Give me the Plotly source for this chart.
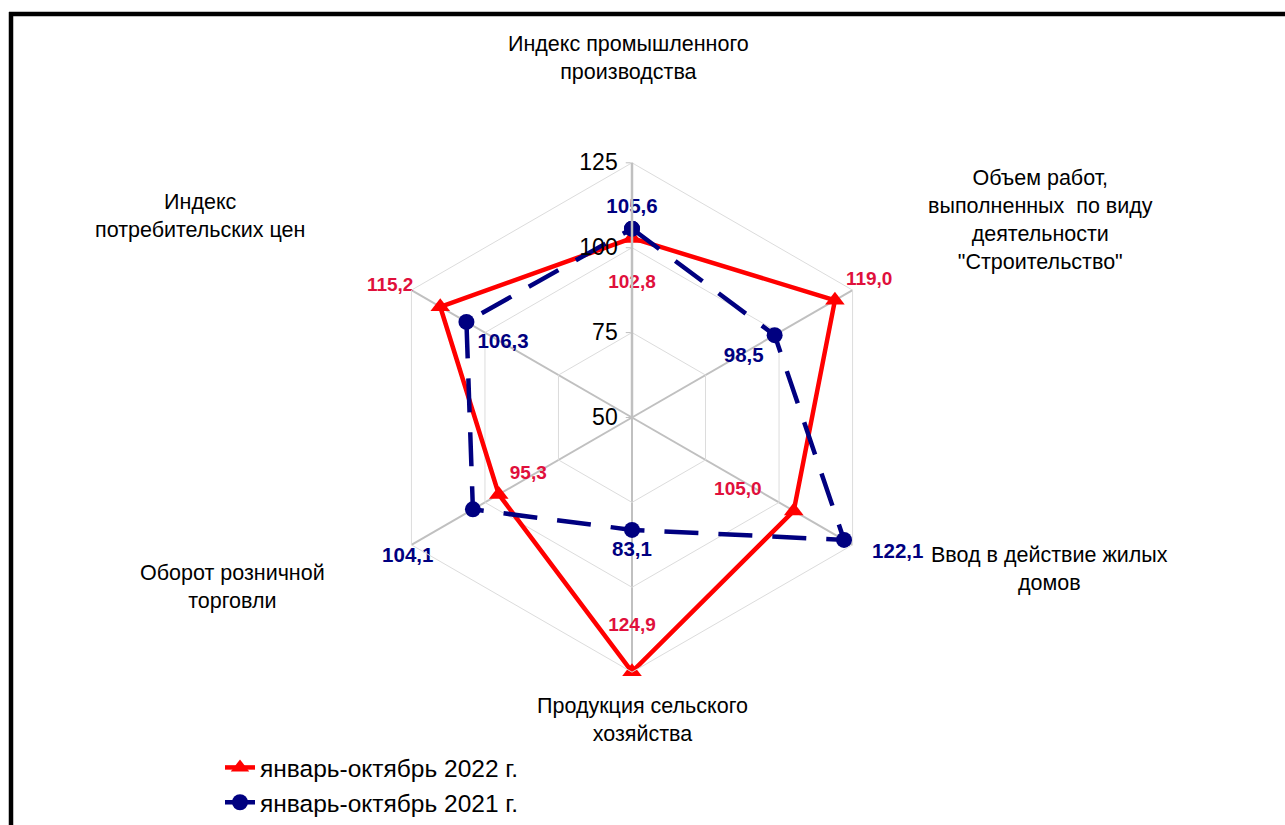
import plotly.graph_objects as go

W, H = 1285, 825

categories = [
    "Индекс промышленного<br>производства",
    "Объем работ,<br>выполненных  по виду<br>деятельности<br>\"Строительство\"",
    "Ввод в действие жилых<br>домов",
    "Продукция сельского<br>хозяйства",
    "Оборот розничной<br>торговли",
    "Индекс<br>потребительских цен",
]
series_2022 = [102.8, 119.0, 105.0, 124.9, 95.3, 115.2]
series_2021 = [105.6, 98.5, 122.1, 83.1, 104.1, 106.3]
series_names = ["январь-октябрь 2022 г.", "январь-октябрь 2021 г."]
radial_ticks = [50, 75, 100, 125]

FONT = "Liberation Sans, Arial, sans-serif"
RED = "#FF0000"
NAVY = "#000080"
RED_LBL = "#E0103C"
NB = "\u00a0"


def fmt(v):
    return f"{v:.1f}".replace(".", ",")


def px(x, y):
    return x / W, 1 - y / H


# label placement (style only)
pos_2022 = ["bottom center", "top right", "top left", "top center", "top right", "top left"]
pre_2022 = ["<br>", "", "", "", "", ""]
post_2022 = ["", "", NB * 4, "<br> ", "", NB * 3]
pos_2021 = ["top center", "bottom left", "middle right", "bottom center", "bottom left", "bottom right"]
pre_2021 = ["", "", "<br>" + NB * 3, "", "<br>", ""]
post_2021 = ["", "", "", "", NB * 5, ""]

fig = go.Figure()

closed_theta = categories + categories[:1]

fig.add_trace(go.Scatterpolar(
    r=series_2022 + series_2022[:1], theta=closed_theta,
    mode="lines+markers", name=series_names[0],
    line=dict(color=RED, width=4.5),
    marker=dict(symbol="triangle-up", size=17, color=RED),
))
fig.add_trace(go.Scatterpolar(
    r=series_2021 + series_2021[:1], theta=closed_theta,
    mode="lines+markers", name=series_names[1],
    line=dict(color=NAVY, width=4.5, dash="34px,20px"),
    marker=dict(symbol="circle", size=16, color=NAVY),
))

fig.add_trace(go.Scatterpolar(
    r=series_2022, theta=categories, mode="markers+text", showlegend=False,
    text=[a + fmt(v) + b for a, v, b in zip(pre_2022, series_2022, post_2022)],
    textposition=pos_2022,
    marker=dict(size=16, color="rgba(0,0,0,0)"),
    textfont=dict(family=FONT, size=19, color=RED_LBL, weight="bold"),
    hoverinfo="skip",
))
fig.add_trace(go.Scatterpolar(
    r=series_2021, theta=categories, mode="markers+text", showlegend=False,
    text=[a + fmt(v) + b for a, v, b in zip(pre_2021, series_2021, post_2021)],
    textposition=pos_2021,
    marker=dict(size=16, color="rgba(0,0,0,0)"),
    textfont=dict(family=FONT, size=20.5, color=NAVY, weight="bold"),
    hoverinfo="skip",
))

cx, cy, R = 632, 418, 255
fig.update_layout(
    width=W, height=H,
    margin=dict(l=0, r=0, t=0, b=0),
    paper_bgcolor="white",
    font=dict(family=FONT, color="black"),
    polar=dict(
        domain=dict(x=[(cx - R) / W, (cx + R) / W], y=[1 - (cy + R) / H, 1 - (cy - R) / H]),
        bgcolor="white",
        gridshape="linear",
        radialaxis=dict(
            range=[50, 125], tickvals=radial_ticks, ticktext=[str(t) for t in radial_ticks],
            angle=90, side="counterclockwise", tickangle=90,
            showline=True, linecolor="#C0C0C0", linewidth=2.5,
            gridcolor="#DCDCDC", gridwidth=1,
            ticks="outside", ticklen=5, tickcolor="#C0C0C0",
            tickfont=dict(family=FONT, size=23, color="black"),
        ),
        angularaxis=dict(
            rotation=90, direction="clockwise",
            showticklabels=False, ticks="",
            showline=True, linecolor="#DCDCDC", linewidth=1,
            gridcolor="#C0C0C0", gridwidth=2,
        ),
    ),
    showlegend=True,
    legend=dict(
        x=220 / W, y=1 - 746 / H, xanchor="left", yanchor="top",
        font=dict(family=FONT, size=24.5, color="black"),
        bgcolor="rgba(0,0,0,0)", tracegroupgap=0,
    ),
)

# category labels
label_centers = [(628, 58), (1040, 220), (1049, 570), (642, 721), (232, 588), (200, 216)]
for text, (x, y) in zip(categories, label_centers):
    ax, ay = px(x, y)
    fig.add_annotation(x=ax, y=ay, xref="paper", yref="paper", text=text,
                       showarrow=False, xanchor="center", yanchor="middle", align="center",
                       font=dict(family=FONT, size=21.5, color="black"))

# chart border (top & left visible)
fig.add_shape(type="line", xref="paper", yref="paper", x0=9 / W, x1=1.02, y0=1 - 14 / H, y1=1 - 14 / H,
              line=dict(color="black", width=4.5))
fig.add_shape(type="line", xref="paper", yref="paper", x0=11 / W, x1=11 / W, y0=1 - 12 / H, y1=-0.02,
              line=dict(color="black", width=4.5))

fig.write_html("out.html", config={"displayModeBar": False},
               post_script="document.body.style.margin='0px';document.body.style.overflow='hidden';")
